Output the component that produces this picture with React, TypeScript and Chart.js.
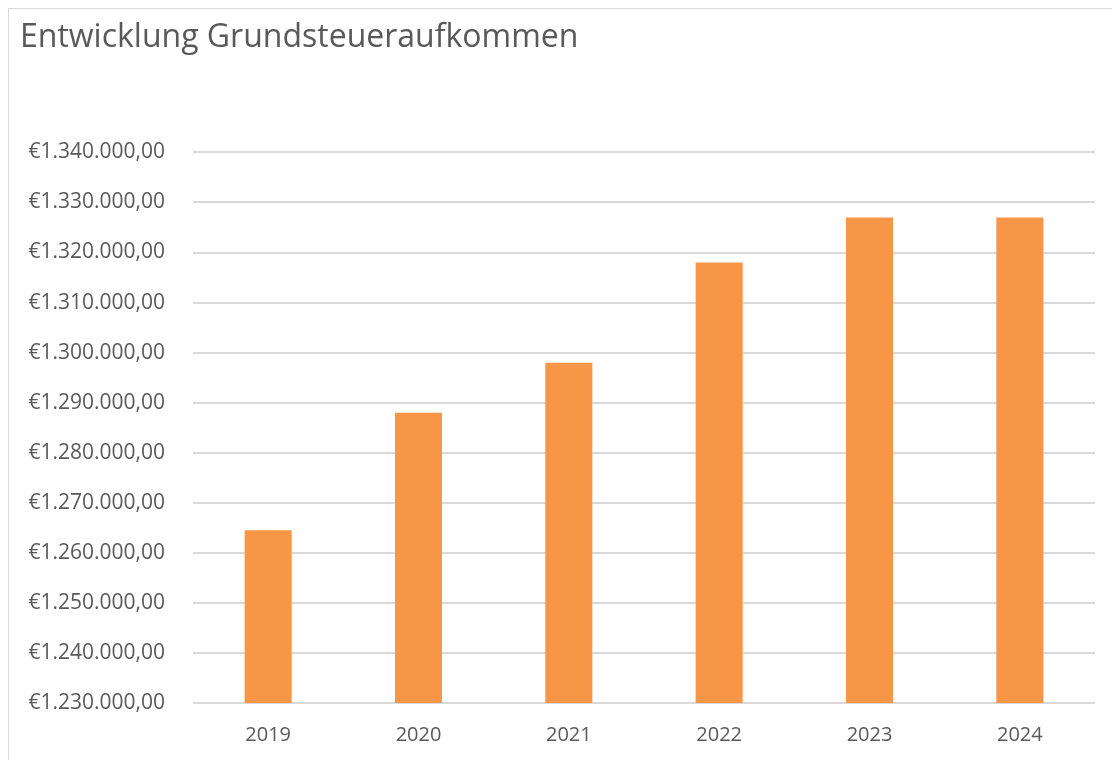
import React, { useEffect, useRef } from "react";
import { Chart, registerables } from "chart.js";

Chart.register(...registerables);

const title = "Entwicklung Grundsteueraufkommen";
const years = ["2019", "2020", "2021", "2022", "2023", "2024"];
const revenue = [1264500, 1288000, 1298000, 1318000, 1327000, 1327000];
const yMin = 1230000;
const yMax = 1340000;
const yStep = 10000;

const fmt = (v: number) =>
  "€" +
  Math.round(v)
    .toString()
    .replace(/\B(?=(\d{3})+(?!\d))/g, ".") +
  ",00";

export default function App() {
  const ref = useRef<HTMLCanvasElement>(null);
  useEffect(() => {
    document.documentElement.style.overflow = "hidden";
    const ctx = ref.current!;
    const chart = new Chart(ctx, {
      type: "bar",
      data: {
        labels: years,
        datasets: [
          {
            data: revenue,
            backgroundColor: "#F79646",
            borderWidth: 0,
            categoryPercentage: 1,
            barPercentage: 0.313,
          },
        ],
      },
      options: {
        animation: false,
        responsive: false,
        layout: { padding: { left: 11, right: 22, top: 0, bottom: 0 } },
        plugins: {
          legend: { display: false },
          tooltip: { enabled: false },
          title: {
            display: true,
            text: title,
            align: "start",
            color: "#595959",
            font: { family: "Open Sans", size: 32, weight: "normal" },
            padding: { top: 10, bottom: 95 },
          },
        },
        scales: {
          x: {
            grid: { display: false, drawTicks: false },
            border: { display: false },
            ticks: {
              color: "#595959",
              font: { family: "Open Sans", size: 20 },
              padding: 20,
            },
            afterFit: (s: any) => {
              s.height = 56;
            },
          },
          y: {
            min: yMin,
            max: yMax,
            grid: { color: "#D9D9D9", lineWidth: 2, drawTicks: false },
            border: { display: false },
            ticks: {
              stepSize: yStep,
              color: "#595959",
              font: { family: "Open Sans", size: 21 },
              padding: 28,
              callback: (v: any) => fmt(Number(v)),
            },
            afterFit: (s: any) => {
              s.width = 173;
            },
          },
        },
      },
    });
    return () => chart.destroy();
  }, []);
  return (
    <div
      style={{
        width: 1110,
        height: 770,
        border: "1px solid #D9D9D9",
        boxSizing: "border-box",
        background: "#fff",
      }}
    >
      <canvas ref={ref} width={1108} height={750} style={{ display: "block" }} />
    </div>
  );
}
